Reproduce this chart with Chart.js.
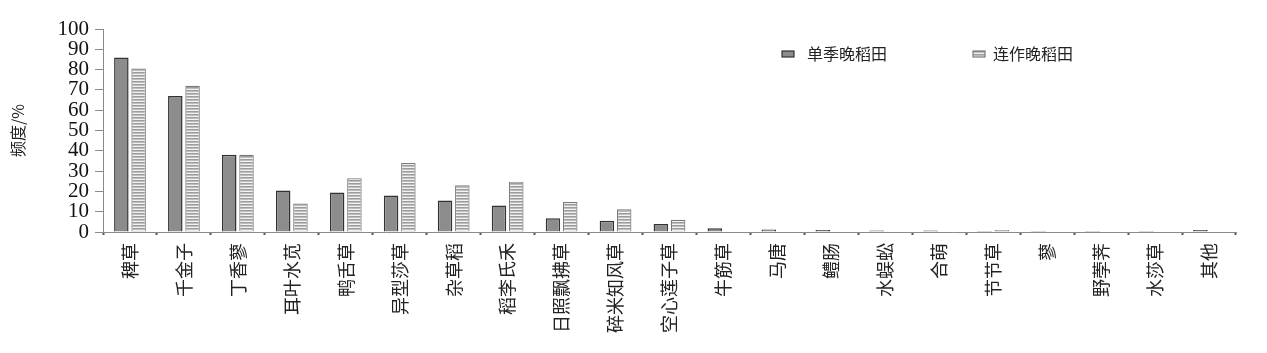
<!DOCTYPE html>
<html>
<head>
<meta charset="utf-8">
<script src="https://cdn.jsdelivr.net/npm/chart.js@4"></script>
<style>
  html, body { margin: 0; padding: 0; background: #fff; }
  #wrap { width: 1267px; height: 353px; position: relative; }
</style>
</head>
<body>
<div id="wrap"><canvas id="chart"></canvas></div>
<script>
// weed species (x axis)
const categories = ['稗草', '千金子', '丁香蓼', '耳叶水苋', '鸭舌草', '异型莎草', '杂草稻', '稻李氏禾',
  '日照飘拂草', '碎米知风草', '空心莲子草', '牛筋草', '马唐', '鳢肠', '水蜈蚣', '合萌', '节节草',
  '蓼', '野荸荠', '水莎草', '其他'];

// frequency %
const singleLate = [86, 67, 38, 20.5, 19.5, 18, 15.5, 13, 6.8, 5.5, 4, 1.8, 1.2, 1, 0.7, 0.7, 0.5, 0.5, 0.5, 0.5, 1];
const doubleLate = [80.5, 72, 38, 14, 26.5, 34, 23, 24.8, 14.8, 11.2, 6, 0, 0, 0, 0, 0, 1, 0, 0, 0, 0];

const seriesNames = ['单季晚稻田', '连作晚稻田'];
const yTicks = [0, 10, 20, 30, 40, 50, 60, 70, 80, 90, 100];

// horizontal hatch for the second series
function hatch() {
  const c = document.createElement('canvas');
  c.width = 4; c.height = 3;
  const g = c.getContext('2d');
  g.fillStyle = '#f2f2f2';
  g.fillRect(0, 0, 4, 3);
  g.fillStyle = '#9c9c9c';
  g.fillRect(0, 0, 4, 1.6);
  return g.createPattern(c, 'repeat');
}

const serif = '"Liberation Serif", "Noto Sans CJK SC", serif';
const cjk = '"Noto Sans CJK SC", "Liberation Serif", serif';

// legend drawn by hand, spread across the top right like the original
const legendPlugin = {
  id: 'spreadLegend',
  afterDraw(chart) {
    const ctx = chart.ctx;
    const spots = [{x: 782, y: 54}, {x: 973, y: 54}];
    ctx.save();
    chart.data.datasets.forEach((ds, i) => {
      const p = spots[i];
      ctx.fillStyle = ds.backgroundColor;
      ctx.fillRect(p.x, p.y - 3, 12, 6);
      ctx.strokeStyle = ds.borderColor;
      ctx.lineWidth = 1.2;
      ctx.strokeRect(p.x, p.y - 3, 12, 6);
      ctx.fillStyle = '#222';
      ctx.font = '16px ' + cjk;
      ctx.textBaseline = 'middle';
      ctx.textAlign = 'left';
      ctx.fillText(ds.label, p.x + (i === 0 ? 25 : 20), p.y);
    });
    ctx.restore();
  }
};

new Chart(document.getElementById('chart'), {
  type: 'bar',
  data: {
    labels: categories,
    datasets: [
      {
        label: seriesNames[0],
        data: singleLate,
        backgroundColor: '#8c8c8c',
        borderColor: '#333',
        borderWidth: 1.5,
        barPercentage: 0.84,
        categoryPercentage: 0.64
      },
      {
        label: seriesNames[1],
        data: doubleLate,
        backgroundColor: hatch(),
        borderColor: '#7a7a7a',
        borderWidth: 1.2,
        barPercentage: 0.84,
        categoryPercentage: 0.64
      }
    ]
  },
  options: {
    responsive: true,
    maintainAspectRatio: false,
    animation: false,
    layout: { padding: { top: 29, right: 31, left: 0, bottom: 0 } },
    plugins: {
      legend: { display: false },
      tooltip: { enabled: false }
    },
    scales: {
      x: {
        grid: { display: true, drawOnChartArea: false, tickLength: 3, color: '#555', tickWidth: 2 },
        border: { color: '#8a8a8a', width: 1 },
        ticks: {
          color: '#222',
          font: { family: cjk, size: 18 },
          minRotation: 90,
          maxRotation: 90,
          autoSkip: false,
          padding: 8
        },
        afterFit(scale) { scale.height = 121; }
      },
      y: {
        min: 0,
        max: 100,
        afterBuildTicks(scale) { scale.ticks = yTicks.map(v => ({value: v})); },
        grid: { display: true, drawOnChartArea: false, tickLength: 8, color: '#8a8a8a' },
        border: { color: '#8a8a8a', width: 1 },
        ticks: {
          color: '#111',
          font: { family: serif, size: 21 },
          padding: 6,
          autoSkip: false
        },
        title: {
          display: true,
          text: '频度/%',
          color: '#222',
          font: { family: cjk, size: 16 },
          padding: { top: 8, bottom: 30 }
        },
        afterFit(scale) { scale.width = 103; }
      }
    }
  },
  plugins: [legendPlugin]
});
</script>
</body>
</html>
